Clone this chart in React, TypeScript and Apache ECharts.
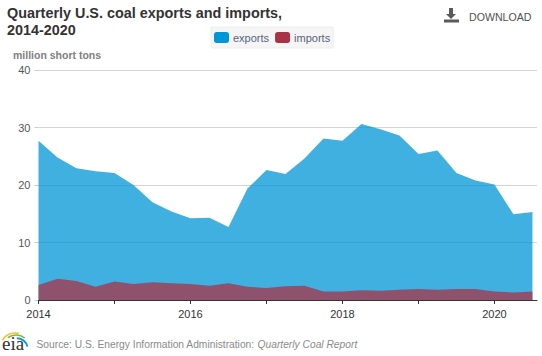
import React, { useEffect, useRef } from "react";
import * as echarts from "echarts";

const quarters = [
  2014, 2014.25, 2014.5, 2014.75, 2015, 2015.25, 2015.5, 2015.75, 2016, 2016.25, 2016.5, 2016.75,
  2017, 2017.25, 2017.5, 2017.75, 2018, 2018.25, 2018.5, 2018.75, 2019, 2019.25, 2019.5, 2019.75,
  2020, 2020.25, 2020.5,
];
const exportsValues = [
  27.7, 24.8, 22.9, 22.4, 22.1, 20, 17, 15.4, 14.2, 14.3, 12.7, 19.4, 22.6, 21.9, 24.6, 28.1, 27.7,
  30.6, 29.7, 28.6, 25.4, 26, 22.1, 20.8, 20.1, 14.9, 15.3,
];
const importsValues = [
  2.6, 3.7, 3.3, 2.3, 3.2, 2.8, 3.1, 2.9, 2.8, 2.5, 2.9, 2.3, 2.1, 2.4, 2.5, 1.5, 1.5, 1.7, 1.6, 1.8,
  1.9, 1.8, 1.9, 1.9, 1.5, 1.3, 1.5,
];

const FONT = "Liberation Sans, Arial, sans-serif";

const pair = (xs: number[], ys: number[]) => xs.map((x, i) => [x, ys[i]]);

export default function App() {
  const ref = useRef<HTMLDivElement>(null);
  useEffect(() => {
    const chart = echarts.init(ref.current!, null, { renderer: "svg" });
    chart.setOption({
      animation: false,
      backgroundColor: "#ffffff",
      title: {
        text: "Quarterly U.S. coal exports and imports,\n2014-2020",
        left: 7,
        top: 4,
        padding: 0,
        textStyle: { fontFamily: FONT, fontSize: 14.4, fontWeight: "bold", color: "#333333", lineHeight: 17.5 },
      },
      legend: {
        left: 211,
        top: 27,
        itemWidth: 15,
        itemHeight: 11,
        itemGap: 6,
        padding: [5, 3, 5, 3],
        backgroundColor: "#f5f5f5",
        borderColor: "#eeeeee",
        borderWidth: 1,
        icon: "roundRect",
        selectedMode: false,
        textStyle: { fontFamily: FONT, fontSize: 11, color: "#56647f", padding: [0, 0, 0, -1] },
        data: [
          { name: "exports", itemStyle: { color: "#0096d7", opacity: 1 } },
          { name: "imports", itemStyle: { color: "#a93346", opacity: 1 } },
        ],
      },
      grid: { left: 38.5, right: 5, top: 70, bottom: 56 },
      xAxis: {
        type: "value",
        min: 2014,
        max: 2020.56,
        interval: 1,
        splitLine: { show: false },
        axisLine: { show: true, onZero: false, lineStyle: { color: "#333333", width: 1 } },
        axisTick: { show: true, length: 4, lineStyle: { color: "#333333" } },
        axisLabel: {
          showMaxLabel: false,
          margin: 8,
          fontFamily: FONT,
          fontSize: 11,
          color: "#333333",
          formatter: (v: number) => (v % 2 === 0 ? String(v) : ""),
        },
      },
      yAxis: {
        type: "value",
        min: 0,
        max: 40,
        interval: 10,
        axisLine: { show: false },
        axisTick: { show: true, length: 4, lineStyle: { color: "#cccccc" } },
        splitLine: { show: true, lineStyle: { color: "#d4d4d4", width: 1 } },
        axisLabel: { margin: 8, fontFamily: FONT, fontSize: 11, color: "#555555" },
      },
      graphic: [
        { type: "text", x: 13, y: 49, style: { text: "million short tons", fontFamily: FONT, fontSize: 10.5, fontWeight: "bold", fill: "#808080" } },
        { type: "text", x: 469, y: 11, style: { text: "DOWNLOAD", fontFamily: FONT, fontSize: 10.6, fill: "#505050" } },
        { type: "rect", shape: { x: 449, y: 8, width: 4, height: 7 }, style: { fill: "#5a5a5a" } },
        { type: "polygon", shape: { points: [[446, 14], [456, 14], [451, 19]] }, style: { fill: "#5a5a5a" } },
        { type: "rect", shape: { x: 444, y: 19.5, width: 15, height: 3 }, style: { fill: "#5a5a5a" } },
        { type: "text", x: 2, y: 334, style: { text: "eia", fontFamily: "Liberation Serif, serif", fontSize: 19, fill: "#333333" } },
        { type: "arc", shape: { cx: 15, cy: 348, r: 15, startAngle: -2.6, endAngle: -1.3 }, style: { stroke: "#f2c230", lineWidth: 1.5, fill: "none" } },
        { type: "arc", shape: { cx: 16, cy: 349, r: 14, startAngle: -2.2, endAngle: -0.9 }, style: { stroke: "#7ab648", lineWidth: 1.5, fill: "none" } },
        { type: "arc", shape: { cx: 16, cy: 350, r: 12, startAngle: -1.5, endAngle: -0.3 }, style: { stroke: "#0096d7", lineWidth: 1.8, fill: "none" } },
        {
          type: "text",
          x: 36.5,
          y: 339,
          style: {
            text: "Source: U.S. Energy Information Administration: {i|Quarterly Coal Report}",
            fontFamily: FONT,
            fontSize: 10.25,
            fill: "#8a8a8a",
            rich: { i: { fontStyle: "italic", fontFamily: FONT, fontSize: 10.25, fill: "#8a8a8a" } },
          },
        },
      ],
      series: [
        {
          name: "exports",
          type: "line",
          data: pair(quarters, exportsValues),
          showSymbol: false,
          lineStyle: { width: 0 },
          itemStyle: { color: "#0096d7" },
          areaStyle: { color: "#0096d7", opacity: 0.75 },
          z: 2,
        },
        {
          name: "imports",
          type: "line",
          data: pair(quarters, importsValues),
          showSymbol: false,
          lineStyle: { width: 0 },
          itemStyle: { color: "#a93346" },
          areaStyle: { color: "#a93346", opacity: 0.75 },
          z: 3,
        },
      ],
    });
    return () => chart.dispose();
  }, []);
  return <div ref={ref} style={{ width: 542, height: 356, position: "fixed", left: 0, top: 0 }} />;
}
